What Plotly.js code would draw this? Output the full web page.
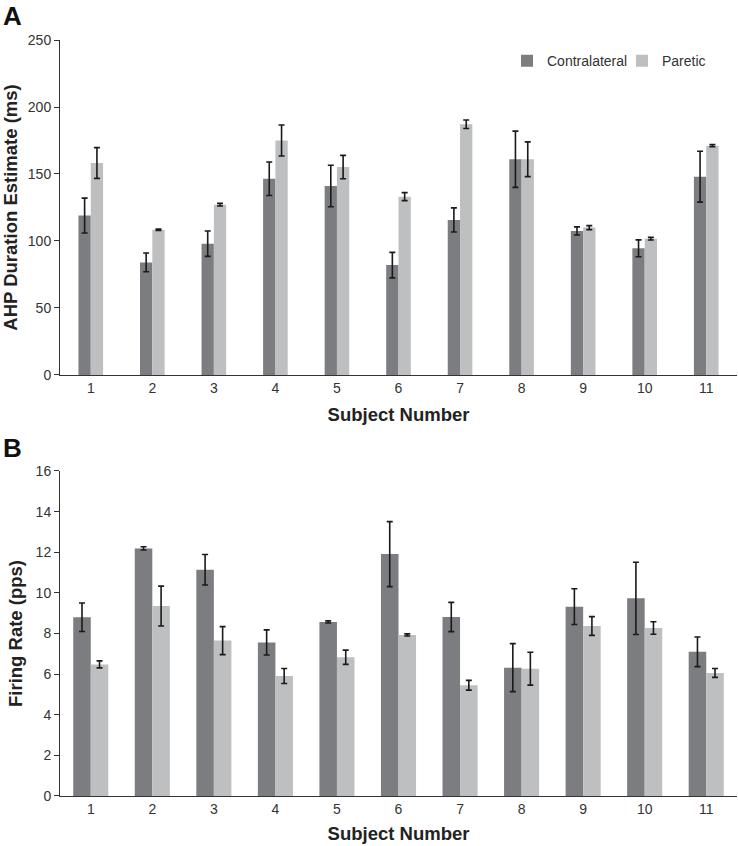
<!DOCTYPE html>
<html>
<head>
<meta charset="utf-8">
<script src="https://cdn.plot.ly/plotly-3.0.1.min.js"></script>
<style>html,body{margin:0;padding:0;background:#fff;}#chart{width:738px;height:846px;}</style>
</head>
<body>
<div id="chart"></div>
<script>
const subjects = ["1","2","3","4","5","6","7","8","9","10","11"];

// Panel A: AHP duration estimate (ms)
const ahpContra = [119, 84, 98, 146.5, 141, 82, 115.7, 161, 107.5, 94.5, 148];
const ahpContraErr = [13, 7, 9.5, 12.5, 15.5, 9.5, 9, 21, 3, 6.3, 19];
const ahpParetic = [158.2, 108.4, 127.1, 175, 155.2, 133.1, 187.1, 161, 110, 101.7, 171.1];
const ahpPareticErr = [11.5, 0.5, 1, 11.6, 8.7, 3, 3.2, 13, 1.5, 1, 0.8];

// Panel B: firing rate (pps)
const frContra = [8.8, 12.19, 11.14, 7.56, 8.57, 11.91, 8.81, 6.32, 9.32, 9.73, 7.1];
const frContraErr = [0.7, 0.08, 0.75, 0.62, 0.05, 1.6, 0.72, 1.18, 0.88, 1.78, 0.73];
const frParetic = [6.48, 9.35, 7.65, 5.91, 6.83, 7.93, 5.45, 6.27, 8.37, 8.27, 6.06];
const frPareticErr = [0.17, 0.98, 0.69, 0.37, 0.35, 0.05, 0.24, 0.81, 0.46, 0.31, 0.22];

const seriesNames = ["Contralateral", "Paretic"];
const colContra = "#7c7d81";
const colParetic = "#bebfc1";

const errStyle = {type: "data", visible: true, color: "#1a1a1a", thickness: 1.6, width: 3};

function barTrace(y, err, name, color, xa, ya, showleg, w, off) {
  return {
    type: "bar", x: subjects, y: y, name: name,
    width: w, offset: off,
    marker: {color: color, line: {width: 0}},
    error_y: Object.assign({array: err}, errStyle),
    xaxis: xa, yaxis: ya, showlegend: showleg, hoverinfo: "x+y"
  };
}

const wA = 0.2, wB = 0.285;
const data = [
  barTrace(ahpContra, ahpContraErr, seriesNames[0], colContra, "x", "y", true, wA, -wA),
  barTrace(ahpParetic, ahpPareticErr, seriesNames[1], colParetic, "x", "y", true, wA, 0),
  barTrace(frContra, frContraErr, seriesNames[0], colContra, "x2", "y2", false, wB, -wB),
  barTrace(frParetic, frPareticErr, seriesNames[1], colParetic, "x2", "y2", false, wB, 0)
];

const fam = "Liberation Sans, Arial, sans-serif";
const tickFont = {family: fam, size: 14, color: "#333"};
const titleFont = {family: fam, size: 18.5, color: "#222", weight: "bold"};

function xAxis(anchor, standoff) {
  return {
    anchor: anchor, type: "category", domain: [0, 1], range: [-0.5, 10.5],
    showline: true, linecolor: "#333", linewidth: 1.3,
    ticks: "", showgrid: false, zeroline: false,
    tickfont: tickFont,
    title: {text: "<b>Subject Number</b>", font: titleFont, standoff: standoff}
  };
}
function yAxis(anchor, domain, range, dtick, title) {
  return {
    anchor: anchor, domain: domain, range: range, dtick: dtick,
    showline: true, linecolor: "#333", linewidth: 1,
    ticks: "outside", ticklen: 5, tickcolor: "#333", tickwidth: 1,
    showgrid: false, zeroline: false, tickfont: tickFont,
    title: {text: "<b>" + title + "</b>", font: titleFont, standoff: 8}
  };
}

const layout = {
  width: 738, height: 846,
  margin: {l: 60, r: 1, t: 40, b: 50},
  paper_bgcolor: "#fff", plot_bgcolor: "#fff",
  font: {family: fam, color: "#333"},
  barmode: "overlay",
  xaxis: xAxis("y", 13),
  yaxis: yAxis("x", [0.5569, 1], [0, 250], 50, "AHP Duration Estimate (ms)"),
  xaxis2: xAxis("y2", 11),
  yaxis2: yAxis("x2", [0, 0.4299], [0, 16], 2, "Firing Rate (pps)"),
  legend: {
    orientation: "h", x: 1, y: 0.972, xanchor: "right", yanchor: "middle",
    font: {family: fam, size: 14, color: "#333"},
    bgcolor: "rgba(0,0,0,0)", itemwidth: 30, entrywidth: 70, entrywidthmode: "pixels"
  },
  annotations: [
    {text: "<b>A</b>", xref: "paper", yref: "paper", x: -0.087, y: 1.032, xanchor: "left", yanchor: "middle", showarrow: false, font: {family: fam, size: 26, color: "#111"}},
    {text: "<b>B</b>", xref: "paper", yref: "paper", x: -0.087, y: 0.460, xanchor: "left", yanchor: "middle", showarrow: false, font: {family: fam, size: 26, color: "#111"}}
  ]
};

Plotly.newPlot("chart", data, layout, {displayModeBar: false, staticPlot: true});
</script>
</body>
</html>
